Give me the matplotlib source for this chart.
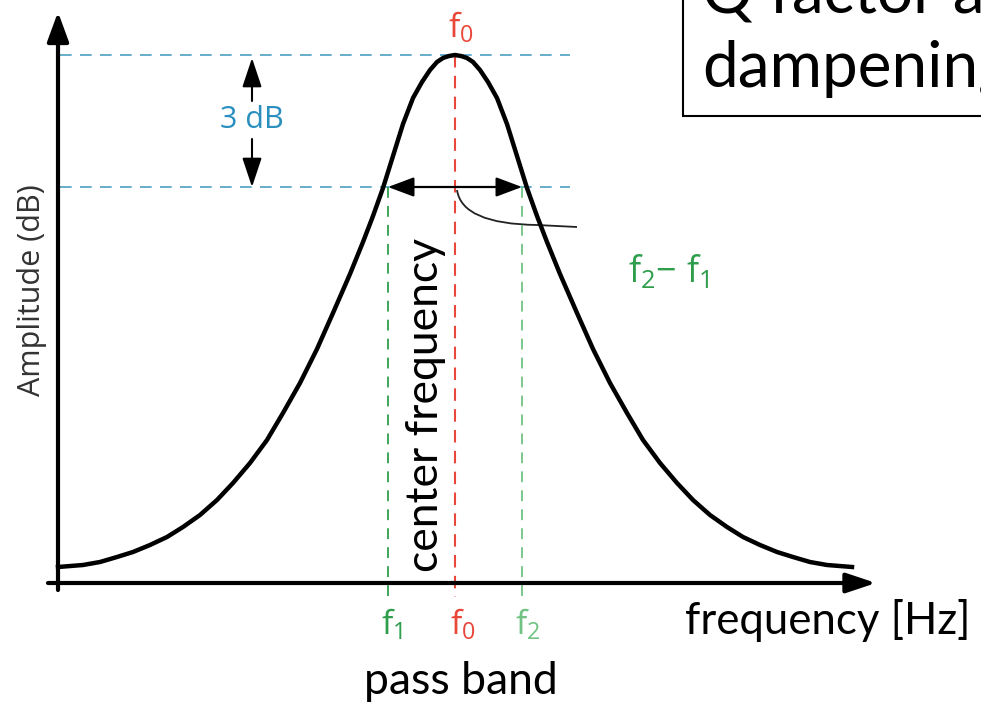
import matplotlib.pyplot as plt
from matplotlib.patches import Rectangle, PathPatch
from matplotlib.path import Path

plt.rcParams['mathtext.fontset'] = 'custom'
plt.rcParams['mathtext.rm'] = 'Open Sans'
plt.rcParams['mathtext.it'] = 'Open Sans:italic'

# Resonance curve (frequency / level in drawing units, level grows downward)
f0 = 455
f1 = 388
f2 = 522
peak_level = 55
half_power_level = 187
base_level = 583

offset = [0, 6, 12, 18, 25, 33, 42, 52, 62, 72, 82, 92, 105, 122, 138, 155, 172, 188, 205,
          222, 238, 255, 272, 288, 305, 322, 338, 355, 372, 397]
level = [55, 56, 58, 62, 70, 82, 98, 124, 156, 188, 216, 242, 274, 313, 349, 383, 413, 440, 463,
         483, 500, 515, 527, 537, 545, 552, 557, 562, 565, 567]

freq = [f0 - d for d in offset[::-1]] + [f0 + d for d in offset[1:]]
amp = level[::-1] + level[1:]

BLUE = '#4d9fc4'
BLUE_TXT = '#2a8fbf'
RED = '#e9473a'
GREEN = '#2f9e4c'
GREEN_LIGHT = '#72c383'

fig = plt.figure(figsize=(9.81, 7.05), dpi=100)
ax = fig.add_axes([0, 0, 1, 1])
ax.set_xlim(0, 981)
ax.set_ylim(705, 0)
ax.axis('off')

# axes with arrow heads
ax.annotate('', xy=(58, 12), xytext=(58, 590),
            arrowprops=dict(arrowstyle='-|>,head_length=0.9,head_width=0.33', lw=3,
                            color='k', mutation_scale=20, shrinkA=0, shrinkB=0))
ax.annotate('', xy=(876, base_level), xytext=(48, base_level),
            arrowprops=dict(arrowstyle='-|>,head_length=0.9,head_width=0.3', lw=3,
                            color='k', mutation_scale=20, shrinkA=0, shrinkB=0))

# reference lines
ax.plot([60, 570], [peak_level, peak_level], color=BLUE, lw=1.2, dashes=(7, 5))
ax.plot([60, 570], [half_power_level, half_power_level], color=BLUE, lw=1.2, dashes=(7, 5))
ax.plot([f0, f0], [peak_level, 597], color=RED, lw=1.5, dashes=(6, 4))
ax.plot([f1, f1], [half_power_level, 596], color=GREEN, lw=1.3, dashes=(6, 4.5))
ax.plot([f2, f2], [half_power_level, 596], color=GREEN_LIGHT, lw=1.3, dashes=(6, 4.5))

# the curve
ax.plot(freq, amp, color='k', lw=3.2, solid_joinstyle='round', zorder=5)

# bandwidth arrow
ax.annotate('', xy=(f1, half_power_level), xytext=(f2, half_power_level),
            arrowprops=dict(arrowstyle='<|-|>,head_length=0.8,head_width=0.3', lw=1.6,
                            color='k', mutation_scale=20, shrinkA=0, shrinkB=0), zorder=6)

# 3 dB arrows
ax.annotate('', xy=(252, 58), xytext=(252, 101),
            arrowprops=dict(arrowstyle='-|>,head_length=0.9,head_width=0.3', lw=1.5,
                            color='k', mutation_scale=20, shrinkA=0, shrinkB=0))
ax.annotate('', xy=(252, 187), xytext=(252, 139),
            arrowprops=dict(arrowstyle='-|>,head_length=0.9,head_width=0.3', lw=1.5,
                            color='k', mutation_scale=20, shrinkA=0, shrinkB=0))
ax.text(252, 120, '3 dB', color=BLUE_TXT, fontsize=22, family='Open Sans',
        ha='center', va='center')

# leader curve from f0 to the f2 - f1 label
leader = Path([(457, 190), (462, 224), (537, 225), (577, 227)],
              [Path.MOVETO, Path.CURVE3, Path.CURVE3, Path.LINETO])
ax.add_patch(PathPatch(leader, fill=False, edgecolor='#222222', lw=1.3))

# labels
ax.text(32, 290, 'Amplitude (dB)', rotation=90, color='#333333', fontsize=22,
        family='Open Sans', ha='center', va='center')
ax.text(448, 28, r'f$_0$', color=RED, fontsize=24, family='Open Sans', ha='left', va='center')
ax.text(381, 625, r'f$_1$', color=GREEN, fontsize=24, family='Open Sans', ha='left', va='center')
ax.text(450, 625, r'f$_0$', color=RED, fontsize=24, family='Open Sans', ha='left', va='center')
ax.text(515, 625, r'f$_2$', color=GREEN_LIGHT, fontsize=24, family='Open Sans', ha='left', va='center')
ax.text(628, 272, r'f$_2$− f$_1$', color=GREEN, fontsize=26, family='Open Sans',
        ha='left', va='center')

ax.text(425, 405, 'center frequency', rotation=90, fontsize=32, family='Lato',
        ha='center', va='center')
ax.text(461, 682, 'pass band', fontsize=32, family='Lato', ha='center', va='center')
ax.text(685, 620, 'frequency [Hz]', fontsize=31.5, family='Lato', ha='left', va='center')

# title box, cut by the right edge
ax.add_patch(Rectangle((683, -10), 400, 126, facecolor='white', edgecolor='k', lw=1.5, zorder=7))
ax.text(702, 13, 'Q factor and', fontsize=46, family='Lato', ha='left', va='baseline', zorder=8)
ax.text(702, 87, 'dampening', fontsize=46, family='Lato', ha='left', va='baseline', zorder=8)

fig.savefig('out.png', dpi=100)
